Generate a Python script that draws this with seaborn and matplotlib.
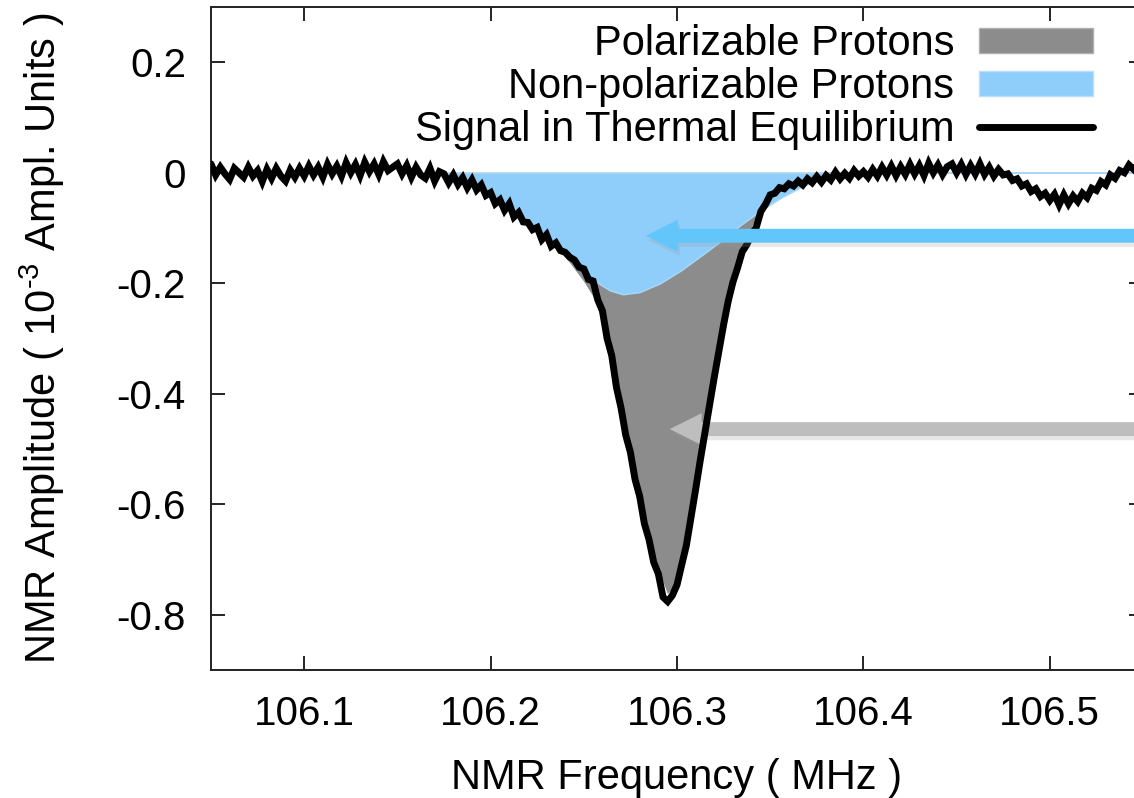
import numpy as np
import matplotlib
matplotlib.use("Agg")
import matplotlib.pyplot as plt
import matplotlib.patheffects as pe
from matplotlib.patches import Patch
from matplotlib.lines import Line2D
import seaborn as sns

# ---------------- data ----------------
freq_start = 106.05
freq_step = 0.0025
# thermal-equilibrium signal (10^-3 ampl. units), one value per 0.0025 MHz from 106.05 to 106.55
signal = [
    0.016, -0.004, 0.010, -0.002, -0.012, 0.008, 0.000, -0.008, 0.010, -0.006,
    0.004, -0.016, 0.006, -0.010, 0.008, -0.006, -0.015, 0.005, -0.008, 0.008,
    -0.006, 0.012, -0.004, 0.010, -0.008, 0.015, -0.002, 0.012, -0.006, 0.018,
    0.000, 0.015, -0.005, 0.019, 0.002, 0.016, -0.003, 0.020, 0.004, 0.010,
    0.016, -0.002, 0.013, -0.008, 0.010, -0.004, -0.010, 0.008, -0.015, 0.002,
    -0.002, -0.018, -0.004, -0.021, -0.009, -0.027, -0.013, -0.031, -0.022, -0.041,
    -0.036, -0.056, -0.049, -0.068, -0.056, -0.080, -0.072, -0.089, -0.090, -0.103,
    -0.099, -0.121, -0.112, -0.133, -0.127, -0.141, -0.144, -0.153, -0.158, -0.171,
    -0.174, -0.193, -0.196, -0.230, -0.250, -0.300, -0.331, -0.388, -0.426, -0.475,
    -0.506, -0.555, -0.586, -0.635, -0.664, -0.705, -0.726, -0.768, -0.776, -0.765,
    -0.746, -0.710, -0.675, -0.624, -0.573, -0.520, -0.470, -0.420, -0.370, -0.322,
    -0.275, -0.232, -0.198, -0.172, -0.143, -0.130, -0.111, -0.099, -0.070, -0.057,
    -0.040, -0.037, -0.027, -0.029, -0.020, -0.024, -0.015, -0.022, -0.011, -0.018,
    -0.007, -0.017, -0.005, -0.013, 0.001, -0.011, -0.001, -0.010, 0.004, -0.006,
    0.002, -0.008, 0.006, -0.006, 0.010, -0.004, 0.012, -0.005, 0.011, -0.003,
    0.015, -0.002, 0.013, -0.005, 0.017, 0.000, 0.014, -0.003, 0.011, 0.016,
    0.000, 0.015, -0.003, 0.013, -0.002, 0.016, -0.003, 0.010, -0.006, 0.006,
    -0.004, -0.002, -0.014, -0.011, -0.024, -0.020, -0.034, -0.029, -0.043, -0.037,
    -0.050, -0.039, -0.058, -0.040, -0.056, -0.042, -0.052, -0.037, -0.045, -0.028,
    -0.032, -0.016, -0.022, -0.004, -0.010, 0.004, 0.000, 0.014, 0.006, 0.017,
    0.010,
]

# fitted total (polarizable + non-polarizable) component
total_freq = [106.17, 106.18, 106.19, 106.20, 106.21, 106.22, 106.23, 106.24, 106.25,
              106.255, 106.26, 106.265, 106.27, 106.275, 106.28, 106.285, 106.29,
              106.295, 106.30, 106.305, 106.31, 106.315, 106.32, 106.325, 106.33,
              106.335, 106.34, 106.345, 106.35, 106.355, 106.36, 106.37, 106.38, 106.55]
total_fit = [0.0, -0.005, -0.02, -0.038, -0.058, -0.085, -0.115, -0.15, -0.195,
             -0.222, -0.265, -0.33, -0.41, -0.49, -0.57, -0.645, -0.715,
             -0.76, -0.74, -0.66, -0.56, -0.455, -0.355, -0.265, -0.19,
             -0.135, -0.095, -0.062, -0.04, -0.024, -0.013, -0.004, 0.0, 0.0]

# non-polarizable component
nonpol_freq = [106.17, 106.18, 106.194, 106.205, 106.216, 106.227, 106.237, 106.248,
               106.256, 106.264, 106.271, 106.28, 106.291, 106.302, 106.313, 106.323,
               106.334, 106.345, 106.356, 106.367, 106.378, 106.39, 106.40, 106.55]
nonpol_fit = [0.0, -0.004, -0.03, -0.05, -0.075, -0.105, -0.135, -0.17,
              -0.196, -0.213, -0.22, -0.216, -0.2, -0.177, -0.15, -0.125,
              -0.095, -0.068, -0.045, -0.025, -0.01, -0.002, 0.0, 0.0]

x_ticks = [106.1, 106.2, 106.3, 106.4, 106.5]
x_tick_labels = ["106.1", "106.2", "106.3", "106.4", "106.5"]
y_ticks = [-0.8, -0.6, -0.4, -0.2, 0.0, 0.2]
y_tick_labels = ["-0.8", "-0.6", "-0.4", "-0.2", "0", "0.2"]

legend_labels = ["Polarizable Protons", "Non-polarizable Protons",
                 "Signal in Thermal Equilibrium"]

# arrow targets (freq, amplitude)
blue_arrow_tip = (106.2818, -0.114)
grey_arrow_tip = (106.2946, -0.464)

# ---------------- style ----------------
sns.set_theme(style="ticks")
plt.rcParams["font.family"] = ["Liberation Sans", "DejaVu Sans"]
plt.rcParams["axes.unicode_minus"] = False
plt.rcParams["mathtext.fontset"] = "custom"
plt.rcParams["mathtext.rm"] = "Liberation Sans"
plt.rcParams["text.color"] = "black"
plt.rcParams["axes.labelcolor"] = "black"

GREY = "#8c8c8c"
BLUE = "#8fcdfa"
ARROW_BLUE = "#62c6fa"
ARROW_GREY = "#bebebe"
FS_TICK = 29
FS = 30

fig = plt.figure(figsize=(11.34, 7.98), dpi=100)
ax = fig.add_axes([211 / 1134, 1 - 670 / 798, (1143 - 211) / 1134, (670 - 7) / 798])

freq = freq_start + freq_step * np.arange(len(signal))

ax.fill_between(total_freq, 0, total_fit, color=GREY, linewidth=0.8, zorder=1)
ax.fill_between(nonpol_freq, 0, nonpol_fit, facecolor=BLUE, edgecolor="#a9d8f8",
                linewidth=1.0, zorder=2)

sns.lineplot(x=freq, y=signal, color="black", linewidth=5, ax=ax, zorder=4,
             sort=False, estimator=None, solid_joinstyle="miter")

shadow = [pe.SimplePatchShadow(offset=(1.5, -3), shadow_rgbFace="0.6", alpha=0.22),
          pe.Normal()]
ax.annotate("", xy=grey_arrow_tip, xytext=(106.60, grey_arrow_tip[1]),
            arrowprops=dict(arrowstyle="simple,head_length=2.3,head_width=2.3,tail_width=1.0",
                            mutation_scale=10, color=ARROW_GREY, linewidth=0,
                            path_effects=shadow),
            annotation_clip=False, zorder=3)
ax.annotate("", xy=blue_arrow_tip, xytext=(106.60, blue_arrow_tip[1]),
            arrowprops=dict(arrowstyle="simple,head_length=2.3,head_width=2.3,tail_width=1.0",
                            mutation_scale=10, color=ARROW_BLUE, linewidth=0,
                            path_effects=shadow),
            annotation_clip=False, zorder=5)

ax.set_xlim(106.05, 106.55)
ax.set_ylim(-0.9, 0.3)
ax.set_xticks(x_ticks)
ax.set_xticklabels(x_tick_labels)
ax.set_yticks(y_ticks)
ax.set_yticklabels(y_tick_labels)
ax.tick_params(direction="in", length=10, width=1.2, top=True, right=True,
               labelsize=FS_TICK, colors="black")
ax.tick_params(axis="y", pad=18)
ax.tick_params(axis="x", pad=18)
for s in ax.spines.values():
    s.set_linewidth(1.4)
    s.set_color("#222222")

ax.set_xlabel("NMR Frequency ( MHz )", fontsize=FS, labelpad=18)
ax.set_ylabel("NMR Amplitude ( 10$^{\\text{-3}}$ Ampl. Units )", fontsize=FS, labelpad=36)

handles = [Patch(facecolor=GREY, edgecolor="#b0b0b0", linewidth=1),
           Patch(facecolor=BLUE, edgecolor="#b8e0fb", linewidth=1),
           Line2D([], [], color="black", linewidth=5)]
leg = ax.legend(handles, legend_labels, loc="upper right",
                bbox_to_anchor=((1093 - 211) / 932, 1 - 17 / 663),
                frameon=False, markerfirst=False, fontsize=FS,
                handlelength=2.73, handleheight=0.55, handletextpad=0.6,
                labelspacing=0.07, borderpad=0, borderaxespad=0)
for t in leg.get_texts():
    t.set_ha("right")

fig.savefig("out.png", dpi=100)
